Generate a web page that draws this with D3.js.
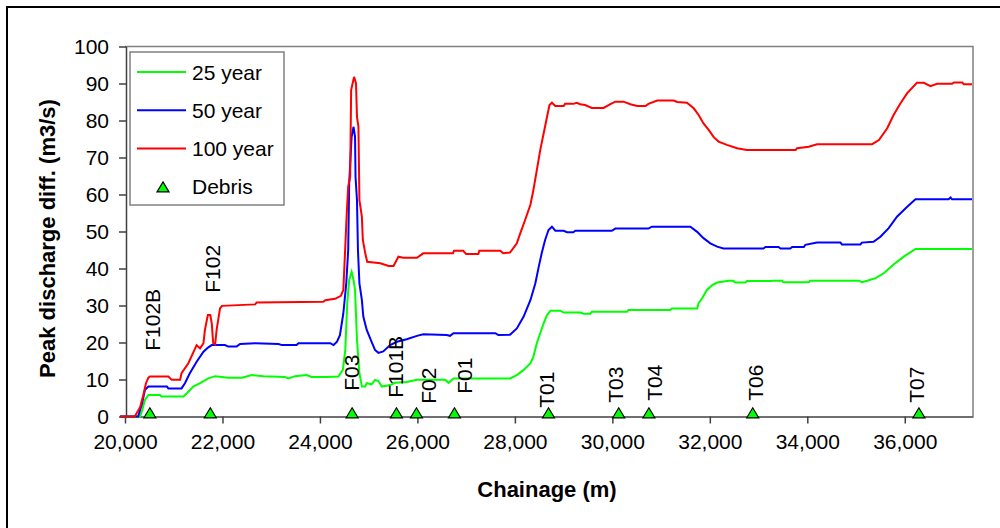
<!DOCTYPE html>
<html>
<head>
<meta charset="utf-8">
<script src="https://cdn.jsdelivr.net/npm/d3@7"></script>
<style>
  body { margin: 0; background: #fff; }
  svg { display: block; font-family: "Liberation Sans", Arial, sans-serif; }
</style>
</head>
<body>
<svg id="svg" width="1000" height="528"></svg>
<script>
// series: [chainage (m), peak discharge diff (m3/s)]
const year25 = [
  [19900, 0], [20310, 0], [20360, 2], [20410, 4.5], [20480, 5.8], [20720, 5.8], [20750, 5.4], [21200, 5.4],
  [21270, 6.3], [21400, 8.1], [21540, 9], [21710, 10.3], [21850, 10.9], [22120, 10.5], [22400, 10.5],
  [22600, 11.2], [22840, 10.9], [23280, 10.7], [23350, 10.3], [23490, 10.9], [23730, 11.2], [23830, 10.7],
  [24140, 10.7], [24380, 10.8], [24470, 12.6], [24520, 18], [24560, 30.6], [24600, 36.9], [24650, 39.1],
  [24690, 36.9], [24720, 34.2], [24760, 20.7], [24810, 11.7], [24860, 8.1], [24930, 8.1], [24960, 9],
  [25060, 8.7], [25130, 9.9], [25200, 9.6], [25270, 8.1], [25440, 8.5], [25540, 9.1], [25780, 9.3],
  [25990, 9.9], [26570, 9.9], [26640, 9.1], [26710, 9.9], [26740, 10.3], [27900, 10.3], [28040, 11.2],
  [28180, 12.6], [28320, 14.4], [28380, 16.2], [28450, 19.8], [28520, 22.5], [28590, 25.2], [28660, 27.4],
  [28730, 28.6], [28930, 28.6], [29000, 28.1], [29340, 28.1], [29410, 27.8], [29550, 27.8], [29580, 28.3],
  [30300, 28.3], [30330, 28.8], [31190, 28.8], [31220, 29.2], [31740, 29.2], [31770, 30.6], [31840, 31.9],
  [31940, 34.2], [32050, 35.5], [32150, 36.2], [32390, 36.7], [32480, 36.7], [32520, 36.2], [32730, 36.2],
  [32760, 36.6], [33240, 36.6], [33280, 36.7], [33480, 36.7], [33510, 36.3], [34030, 36.3], [34060, 36.7],
  [35060, 36.7], [35120, 36.3], [35230, 36.7], [35400, 37.4], [35570, 38.7], [35770, 41.1], [35980, 43.2],
  [36220, 45.3], [37380, 45.3]
]

const year50 = [
  [19900, 0], [20270, 0], [20350, 3.5], [20410, 7.2], [20480, 8.1], [20860, 8.1], [20890, 7.6], [21160, 7.6],
  [21230, 9], [21330, 11.7], [21470, 14.8], [21610, 17.5], [21710, 18.7], [21780, 19.3], [22050, 19.3],
  [22120, 18.9], [22290, 18.9], [22360, 19.6], [22670, 19.8], [23150, 19.6], [23220, 19.3], [23520, 19.3],
  [23560, 19.8], [24210, 19.8], [24280, 19.3], [24350, 20.2], [24410, 22], [24480, 27.9], [24540, 36],
  [24580, 45], [24600, 63], [24650, 75.6], [24690, 78.3], [24720, 75.6], [24730, 64.8], [24760, 58.5],
  [24780, 45], [24810, 36], [24860, 31.5], [24890, 27], [24960, 23.4], [25060, 20.2], [25130, 18],
  [25200, 17.2], [25300, 17.6], [25440, 19.3], [25580, 20.2], [25780, 20.9], [25990, 21.8], [26120, 22.2],
  [26600, 22], [26670, 21.8], [26740, 22.5], [27600, 22.5], [27660, 22], [27900, 22.1], [28040, 23.8],
  [28180, 27], [28320, 31.5], [28420, 36], [28490, 40.5], [28550, 44.1], [28620, 47.7], [28690, 50.4],
  [28760, 51.3], [28830, 50.2], [29000, 50.2], [29070, 49.8], [29200, 49.8], [29240, 50.2], [29990, 50.2],
  [30060, 50.8], [30740, 50.8], [30810, 51.3], [31600, 51.3], [31740, 49.9], [31870, 48.2], [32010, 46.8],
  [32150, 45.9], [32280, 45.4], [33100, 45.4], [33140, 45.8], [33410, 45.8], [33450, 45.4], [33650, 45.4],
  [33690, 45.8], [33930, 45.8], [33960, 46.4], [34200, 47], [34680, 47], [34710, 46.5], [35090, 46.5],
  [35120, 47], [35360, 47.2], [35500, 48.6], [35670, 50.9], [35840, 54], [36050, 56.7], [36220, 58.7],
  [36900, 58.7], [36940, 59.2], [36970, 58.7], [37380, 58.7]
]

const year100 = [
  [19900, 0], [20200, 0], [20310, 2.5], [20380, 6], [20430, 9], [20480, 10.5], [20510, 10.8], [20890, 10.8],
  [20960, 9.9], [21130, 9.9], [21160, 11.7], [21300, 14.4], [21470, 19.3], [21540, 18.4], [21610, 19.8],
  [21640, 23.4], [21700, 27.4], [21750, 27.4], [21780, 25.2], [21810, 19.8], [21850, 19.5], [21880, 23.4],
  [21950, 29.2], [21990, 29.9], [22670, 30.3], [22700, 30.8], [24070, 31], [24110, 31.4], [24310, 31.8],
  [24430, 32.6], [24480, 34.2], [24520, 45.9], [24550, 54.9], [24580, 62.1], [24620, 64.8], [24640, 88.2],
  [24700, 91.8], [24740, 90], [24760, 81], [24790, 78.3], [24810, 58.5], [24860, 54], [24880, 47.7],
  [24930, 44.1], [24970, 41.8], [25240, 41.4], [25410, 40.7], [25510, 40.7], [25610, 43.2], [25710, 42.9],
  [25990, 42.9], [26120, 44.1], [26730, 44.1], [26750, 44.8], [26940, 44.8], [27000, 43.9], [27250, 43.9],
  [27270, 44.8], [27700, 44.8], [27760, 44.1], [27900, 44.3], [28040, 46.8], [28110, 49.5], [28210, 53.1],
  [28320, 57.3], [28380, 61.2], [28450, 66.6], [28520, 72], [28590, 76.5], [28660, 81], [28710, 84.2],
  [28760, 84.8], [28830, 83.9], [29000, 83.9], [29030, 84.5], [29200, 84.5], [29270, 84.8], [29340, 84.4],
  [29440, 84.2], [29580, 83.4], [29820, 83.4], [29960, 84.4], [30060, 85.1], [30230, 85.1], [30370, 84.4],
  [30510, 83.9], [30680, 83.9], [30740, 84.5], [30920, 85.4], [31260, 85.4], [31330, 85], [31530, 84.8],
  [31670, 83.3], [31770, 81.5], [31870, 79.2], [31980, 77.4], [32080, 75.5], [32180, 74.3], [32350, 73.4],
  [32560, 72.5], [32760, 72], [33760, 72], [33790, 72.5], [34030, 72.9], [34200, 73.6], [35330, 73.6],
  [35470, 74.7], [35640, 77.9], [35770, 81.5], [35910, 84.6], [36050, 87.4], [36250, 90.2], [36390, 90.2],
  [36530, 89.3], [36660, 89.9], [36970, 89.9], [37010, 90.3], [37180, 90.3], [37210, 89.8], [37380, 89.8]
]

const debrisNames = ['F102B', 'F102', 'F03', 'F101B', 'F02', 'F01', 'T01', 'T03', 'T04', 'T06', 'T07']
const debrisChainage = [20510, 21750, 24660, 25570, 25980, 26760, 28690, 30130, 30750, 32880, 36290]
const debrisValue = 1

// hand nudges of the labels (px), as they were dragged in the original
const labelNudge = [[3, -62], [2, -120], [-1, -22], [-1, -15], [12, -9], [10, -19], [-2, -5], [-3, -10], [6, -12], [3, -12], [-2, -10]]

const xTicks = d3.range(20000, 36001, 2000)
const yTicks = d3.range(0, 101, 10)

const series = [
  { name: '25 year', data: year25, colour: '#00ff00' },
  { name: '50 year', data: year50, colour: '#0000ff' },
  { name: '100 year', data: year100, colour: '#ff0000' }
]

const svg = d3.select('#svg')

// chart frame
svg.append('rect')
  .attr('x', 7).attr('y', 7)
  .attr('width', 1200).attr('height', 700)
  .attr('fill', 'none')
  .attr('stroke', '#000')
  .attr('stroke-width', 2)

const xScale = d3.scaleLinear()
  .domain([20000, 37400])
  .range([125, 973])

const yScale = d3.scaleLinear()
  .domain([0, 100])
  .range([416.5, 46.5])

// plot area border (top/right)
svg.append('path')
  .attr('d', `M${xScale(20000)},${yScale(100)}H${xScale(37400)}V${yScale(0)}`)
  .attr('fill', 'none')
  .attr('stroke', '#808080')
  .attr('stroke-width', 1.5)

const xAxis = svg.append('g')
  .attr('transform', `translate(0,${yScale(0)})`)
  .call(d3.axisBottom(xScale).tickValues(xTicks).tickSize(7).tickSizeOuter(0).tickFormat(d3.format(',')))

const yAxis = svg.append('g')
  .attr('transform', `translate(${xScale(20000) + 1},0)`)
  .call(d3.axisLeft(yScale).tickValues(yTicks).tickSize(7).tickSizeOuter(0))

;[xAxis, yAxis].forEach(g => {
  g.selectAll('path, line').attr('stroke', '#404040').attr('stroke-width', 1.5)
  g.selectAll('text').attr('fill', '#000').style('font-size', '21px')
})
xAxis.selectAll('text').attr('dy', '1.05em')
yAxis.selectAll('text').attr('x', -17)

const line = d3.line()
  .x(d => xScale(d[0]))
  .y(d => yScale(d[1]))

svg.selectAll('.series')
  .data(series)
  .enter()
  .append('path')
  .attr('class', 'series')
  .attr('d', d => line(d.data))
  .attr('fill', 'none')
  .attr('stroke', d => d.colour)
  .attr('stroke-width', 2)
  .attr('stroke-linejoin', 'miter')

const tri = 'M0,-5L6,5L-6,5Z'

svg.selectAll('.debris')
  .data(debrisChainage)
  .enter()
  .append('path')
  .attr('class', 'debris')
  .attr('d', tri)
  .attr('transform', d => `translate(${xScale(d)},${yScale(debrisValue)})`)
  .attr('fill', '#00ff00')
  .attr('stroke', '#000')
  .attr('stroke-width', 1.2)

svg.selectAll('.debris-label')
  .data(debrisChainage)
  .enter()
  .append('text')
  .attr('class', 'debris-label')
  .attr('transform', (d, i) => `translate(${xScale(d) + labelNudge[i][0]},${yScale(debrisValue) + labelNudge[i][1]}) rotate(-90)`)
  .attr('dy', '0.36em')
  .style('font-size', '21px')
  .text((d, i) => debrisNames[i])

// axis titles
svg.append('text')
  .attr('x', (xScale(20000) + xScale(37400)) / 2 - 2)
  .attr('y', 497)
  .attr('text-anchor', 'middle')
  .style('font-size', '22px')
  .style('font-weight', 'bold')
  .text('Chainage (m)')

svg.append('text')
  .attr('transform', `translate(47,${(yScale(0) + yScale(100)) / 2 + 7}) rotate(-90)`)
  .attr('text-anchor', 'middle')
  .attr('dy', '0.36em')
  .style('font-size', '22px')
  .style('font-weight', 'bold')
  .text('Peak discharge diff. (m3/s)')

// legend
const legend = svg.append('g')
legend.append('rect')
  .attr('x', 130).attr('y', 52)
  .attr('width', 154).attr('height', 153)
  .attr('fill', '#fff')
  .attr('stroke', '#808080')
  .attr('stroke-width', 1.5)

const legendRows = series.map(s => ({ name: s.name, colour: s.colour, kind: 'line' }))
  .concat([{ name: 'Debris', kind: 'marker' }])

const row = legend.selectAll('.row')
  .data(legendRows)
  .enter()
  .append('g')
  .attr('transform', (d, i) => `translate(0,${72 + i * 38.3})`)

row.filter(d => d.kind === 'line')
  .append('line')
  .attr('x1', 137).attr('x2', 186)
  .attr('stroke', d => d.colour)
  .attr('stroke-width', 2)

row.filter(d => d.kind === 'marker')
  .append('path')
  .attr('d', tri)
  .attr('transform', 'translate(163,0)')
  .attr('fill', '#00ff00')
  .attr('stroke', '#000')
  .attr('stroke-width', 1.2)

row.append('text')
  .attr('x', 192)
  .attr('dy', '0.36em')
  .style('font-size', '21px')
  .text(d => d.name)
</script>
</body>
</html>
